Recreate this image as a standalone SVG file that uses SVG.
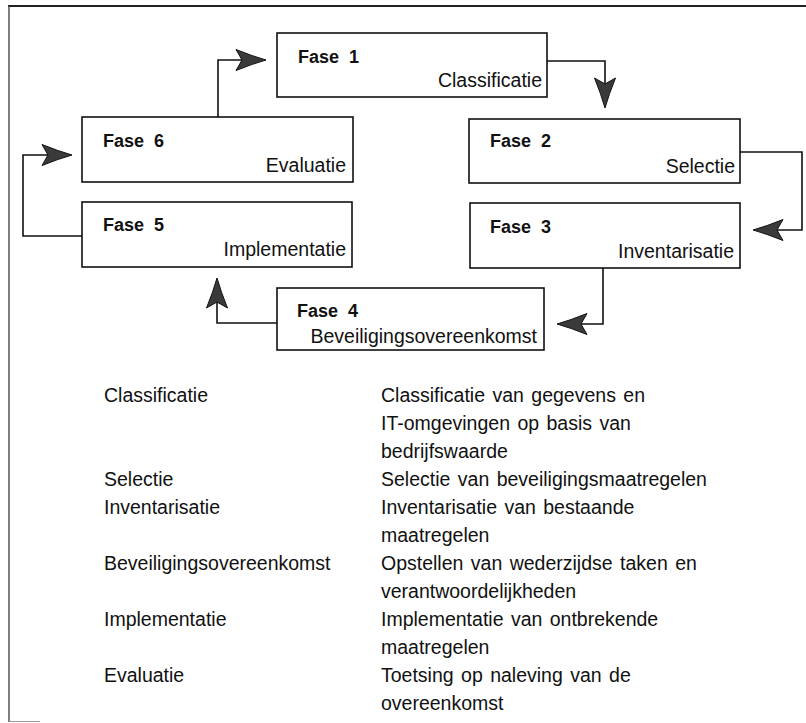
<svg xmlns="http://www.w3.org/2000/svg" xmlns:xlink="http://www.w3.org/1999/xlink" width="806" height="723" viewBox="0 0 806 723">
  <style>
    .box { fill: #fff; stroke: #111; stroke-width: 1.6; }
    .phase { font-family: "Liberation Sans", Arial, sans-serif; font-weight: bold; font-size: 18px; fill: #111; }
    .name { font-family: "Liberation Sans", Arial, sans-serif; font-size: 19.5px; fill: #111; text-anchor: end; }
    .edge { fill: none; stroke: #111; stroke-width: 1.6; }
    .head { fill: #3a3a3a; stroke: #111; stroke-width: 1; stroke-linejoin: miter; }
    .legend { font-family: "Liberation Sans", Arial, sans-serif; font-size: 19.5px; fill: #111; word-spacing: 2px; }
  </style>
  <defs>
    <!-- barbed arrowhead, tip at the origin, pointing along +x -->
    <path id="arrowhead" d="M0,0 Q-14,-4 -30,-10.5 L-24,0 L-30,10.5 Q-14,4 0,0 Z"/>
  </defs>

  <rect width="806" height="723" fill="#fff"/>

  <!-- frame -->
  <g id="frame" fill="none">
    <line x1="8" y1="6" x2="806" y2="6" stroke="#222" stroke-width="2"/>
    <line x1="9" y1="6" x2="9" y2="722" stroke="#555" stroke-width="1.5"/>
    <line x1="9" y1="721.5" x2="40" y2="721.5" stroke="#999" stroke-width="1"/>
  </g>

  <!-- connectors -->
  <g id="connectors">
    <path class="edge" d="M218,117 V60 H245"/>
    <path class="edge" d="M547,61 H605 V88"/>
    <path class="edge" d="M740,152 H802 V230 H774"/>
    <path class="edge" d="M603,268 V324 H578"/>
    <path class="edge" d="M277,323 H217 V299"/>
    <path class="edge" d="M82,236 H23 V155 H51"/>
    <use class="head" xlink:href="#arrowhead" href="#arrowhead" transform="translate(266,60)"/>
    <use class="head" xlink:href="#arrowhead" href="#arrowhead" transform="translate(605,108) rotate(90)"/>
    <use class="head" xlink:href="#arrowhead" href="#arrowhead" transform="translate(753,230) rotate(180)"/>
    <use class="head" xlink:href="#arrowhead" href="#arrowhead" transform="translate(557,324) rotate(180)"/>
    <use class="head" xlink:href="#arrowhead" href="#arrowhead" transform="translate(217,278) rotate(-90)"/>
    <use class="head" xlink:href="#arrowhead" href="#arrowhead" transform="translate(72,155)"/>
  </g>

  <g id="fase1">
    <rect class="box" x="277" y="33" width="270" height="64"/>
    <text class="phase" x="298" y="63">Fase <tspan dx="5">1</tspan></text>
    <text class="name" x="542" y="87">Classificatie</text>
  </g>
  <g id="fase2">
    <rect class="box" x="469" y="119" width="271" height="64"/>
    <text class="phase" x="490" y="147">Fase <tspan dx="5">2</tspan></text>
    <text class="name" x="735" y="173">Selectie</text>
  </g>
  <g id="fase3">
    <rect class="box" x="470" y="203" width="270" height="65"/>
    <text class="phase" x="490" y="233">Fase <tspan dx="5">3</tspan></text>
    <text class="name" x="734" y="258">Inventarisatie</text>
  </g>
  <g id="fase4">
    <rect class="box" x="277" y="288" width="267" height="62"/>
    <text class="phase" x="297" y="317">Fase <tspan dx="5">4</tspan></text>
    <text class="name" x="537" y="343">Beveiligingsovereenkomst</text>
  </g>
  <g id="fase5">
    <rect class="box" x="82" y="202" width="270" height="65"/>
    <text class="phase" x="103" y="231">Fase <tspan dx="5">5</tspan></text>
    <text class="name" x="346" y="256">Implementatie</text>
  </g>
  <g id="fase6">
    <rect class="box" x="82" y="117" width="271" height="65"/>
    <text class="phase" x="103" y="147">Fase <tspan dx="5">6</tspan></text>
    <text class="name" x="346" y="172">Evaluatie</text>
  </g>

  <!-- legend -->
  <g id="legend" class="legend">
    <text x="104" y="402">Classificatie</text>
    <text x="381" y="402">Classificatie van gegevens en</text>
    <text x="381" y="430">IT-omgevingen op basis van</text>
    <text x="381" y="458">bedrijfswaarde</text>
    <text x="104" y="486">Selectie</text>
    <text x="381" y="486">Selectie van beveiligingsmaatregelen</text>
    <text x="104" y="514">Inventarisatie</text>
    <text x="381" y="514">Inventarisatie van bestaande</text>
    <text x="381" y="542">maatregelen</text>
    <text x="104" y="570">Beveiligingsovereenkomst</text>
    <text x="381" y="570">Opstellen van wederzijdse taken en</text>
    <text x="381" y="598">verantwoordelijkheden</text>
    <text x="104" y="626">Implementatie</text>
    <text x="381" y="626">Implementatie van ontbrekende</text>
    <text x="381" y="654">maatregelen</text>
    <text x="104" y="682">Evaluatie</text>
    <text x="381" y="682">Toetsing op naleving van de</text>
    <text x="381" y="710">overeenkomst</text>
  </g>
</svg>
